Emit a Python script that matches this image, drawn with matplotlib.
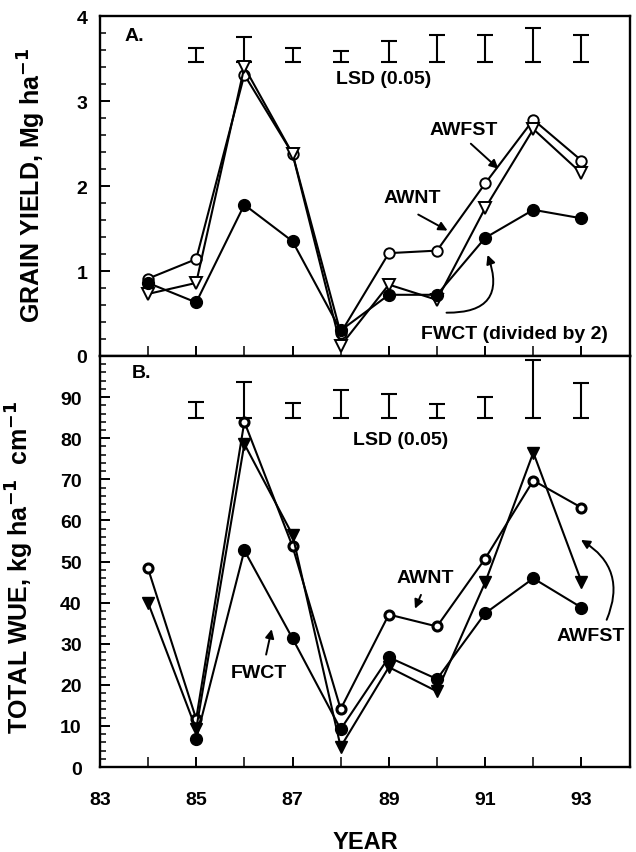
import numpy as np
import matplotlib
matplotlib.use("Agg")
import matplotlib.pyplot as plt
from matplotlib.ticker import MultipleLocator

plt.rcParams['font.family'] = ['Liberation Sans', 'DejaVu Sans']
plt.rcParams['font.weight'] = 'bold'

years = np.array([84, 85, 86, 87, 88, 89, 90, 91, 92, 93])

# Panel A: grain yield (Mg/ha)
awnt_yield = [0.91, 1.14, 3.31, 2.38, 0.27, 1.21, 1.24, 2.03, 2.78, 2.30]
awfst_yield = [0.73, 0.86, 3.40, 2.38, 0.12, 0.84, 0.66, 1.74, 2.67, 2.15]
fwct_yield = [0.86, 0.63, 1.78, 1.35, 0.30, 0.72, 0.72, 1.39, 1.72, 1.62]

# Panel B: total WUE (kg/ha/cm)
awnt_wue = [48.3, 11.7, 84.0, 53.7, 14.1, 37.1, 34.2, 50.7, 69.7, 63.1]
awfst_wue = [40.0, 9.2, 78.6, 56.5, 4.9, 24.3, 18.4, 44.9, 76.5, 45.1]
fwct_wue = [np.nan, 6.8, 52.7, 31.3, 9.2, 26.7, 21.4, 37.4, 45.9, 38.8]

lsd_years = [85, 86, 87, 88, 89, 90, 91, 92, 93]
lsd_yield = [0.16, 0.29, 0.16, 0.13, 0.25, 0.32, 0.32, 0.40, 0.32]
lsd_wue = [3.9, 8.7, 3.6, 6.8, 5.8, 3.2, 4.9, 14.0, 8.5]

fig = plt.figure(figsize=(6.36, 8.53), dpi=100)
axA = fig.add_axes([0.157, 0.5815, 0.833, 0.3985])
axB = fig.add_axes([0.157, 0.0996, 0.833, 0.4819], sharex=axA)

lw = 1.5
fs = 14
arrow_kw = dict(arrowstyle='-|>', color='black', lw=1.4, mutation_scale=13)

# Panel A
axA.plot(years, awnt_yield, '-o', color='black', mfc='white', mec='black', ms=7.5, lw=lw, mew=1.4, zorder=3)
axA.plot(years, awfst_yield, '-v', color='black', mfc='white', mec='black', ms=8.5, lw=lw, mew=1.4, zorder=3)
axA.plot(years, fwct_yield, '-o', color='black', mfc='black', ms=8.5, lw=lw, zorder=4)

baseA = 3.46
lA = np.array(lsd_yield)
axA.errorbar(lsd_years, baseA + lA / 2, yerr=lA / 2, fmt='none', ecolor='black',
             elinewidth=1.5, capsize=5.5, capthick=1.5)

axA.set_ylim(0, 4)
axA.set_xlim(83, 94)
axA.yaxis.set_major_locator(MultipleLocator(1))
axA.yaxis.set_minor_locator(MultipleLocator(0.2))
axA.set_ylabel('GRAIN YIELD, Mg ha$^{\\mathbf{-1}}$', fontsize=18, fontweight='bold')

axA.text(83.52, 3.77, 'A.', fontsize=fs, fontweight='bold', ha='left', va='center')
axA.text(88.9, 3.27, 'LSD (0.05)', fontsize=fs, fontweight='bold', ha='center', va='center')
axA.text(90.56, 2.66, 'AWFST', fontsize=fs, fontweight='bold', ha='center', va='center')
axA.annotate('', xy=(91.32, 2.18), xytext=(90.66, 2.52), arrowprops=arrow_kw)
axA.text(89.48, 1.87, 'AWNT', fontsize=fs, fontweight='bold', ha='center', va='center')
axA.annotate('', xy=(90.27, 1.46), xytext=(89.56, 1.68), arrowprops=arrow_kw)
axA.text(91.61, 0.26, 'FWCT (divided by 2)', fontsize=fs, fontweight='bold', ha='center', va='center')
axA.annotate('', xy=(91.03, 1.22), xytext=(90.14, 0.51),
             arrowprops=dict(arrow_kw, connectionstyle='arc3,rad=0.75'))

# Panel B
axB.plot(years, awnt_wue, '-o', color='black', mfc='white', mec='black', ms=6.5, lw=lw, mew=2.2, zorder=3)
axB.plot(years, awfst_wue, '-v', color='black', mfc='black', ms=8.5, lw=lw, zorder=3)
axB.plot(years, fwct_wue, '-o', color='black', mfc='black', ms=8.5, lw=lw, zorder=4)

baseB = 85.0
lB = np.array(lsd_wue)
axB.errorbar(lsd_years, baseB + lB / 2, yerr=lB / 2, fmt='none', ecolor='black',
             elinewidth=1.5, capsize=5.5, capthick=1.5)

axB.set_ylim(0, 100)
axB.set_yticks(np.arange(0, 100, 10))
axB.yaxis.set_minor_locator(MultipleLocator(2))
axB.set_ylabel('TOTAL WUE, kg ha$^{\\mathbf{-1}}$  cm$^{\\mathbf{-1}}$', fontsize=18, fontweight='bold')
axB.set_xlabel('YEAR', fontsize=17, fontweight='bold')

axB.text(83.66, 95.9, 'B.', fontsize=fs, fontweight='bold', ha='left', va='center')
axB.text(89.25, 79.6, 'LSD (0.05)', fontsize=fs, fontweight='bold', ha='center', va='center')
axB.text(89.75, 46.1, 'AWNT', fontsize=fs, fontweight='bold', ha='center', va='center')
axB.annotate('', xy=(89.52, 37.9), xytext=(89.69, 42.5), arrowprops=arrow_kw)
axB.text(93.2, 32.0, 'AWFST', fontsize=fs, fontweight='bold', ha='center', va='center')
axB.annotate('', xy=(92.94, 55.6), xytext=(93.5, 35.2),
             arrowprops=dict(arrow_kw, connectionstyle='arc3,rad=0.45'))
axB.text(86.3, 23.1, 'FWCT', fontsize=fs, fontweight='bold', ha='center', va='center')
axB.annotate('', xy=(86.58, 34.2), xytext=(86.44, 26.7), arrowprops=arrow_kw)

axB.set_xticks(np.arange(83, 94, 2))
axB.xaxis.set_minor_locator(MultipleLocator(1))

for ax in (axA, axB):
    for s in ax.spines.values():
        s.set_linewidth(1.7)
    ax.tick_params(axis='both', which='both', direction='in', top=False, right=False)
    ax.tick_params(axis='both', which='major', length=7, width=1.4, labelsize=14)
    ax.tick_params(axis='both', which='minor', length=4, width=1.1)
    ax.tick_params(axis='x', which='both', length=7)
    for lab in ax.get_xticklabels() + ax.get_yticklabels():
        lab.set_fontweight('bold')

axA.tick_params(axis='x', which='both', labelbottom=False)
axA.tick_params(axis='y', which='major', pad=9)
axB.tick_params(axis='y', which='major', pad=13)
axB.tick_params(axis='x', which='major', pad=17)

axA.yaxis.set_label_coords(-0.098, 0.504)
axB.yaxis.set_label_coords(-0.12, 0.488)
axB.xaxis.set_label_coords(0.502, -0.153)

fig.savefig('out.png', dpi=100)
